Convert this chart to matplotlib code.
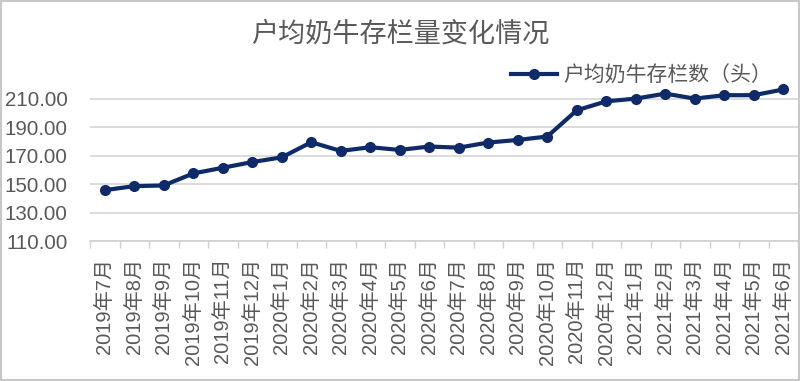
import matplotlib.pyplot as plt
from matplotlib.patches import Rectangle
import numpy as np

plt.rcParams['font.family'] = ['Liberation Sans', 'Noto Sans CJK SC']

# data
months = ["2019年7月", "2019年8月", "2019年9月", "2019年10月", "2019年11月", "2019年12月",
          "2020年1月", "2020年2月", "2020年3月", "2020年4月", "2020年5月", "2020年6月",
          "2020年7月", "2020年8月", "2020年9月", "2020年10月", "2020年11月", "2020年12月",
          "2021年1月", "2021年2月", "2021年3月", "2021年4月", "2021年5月", "2021年6月"]
cows = [145.8, 148.6, 149.1, 157.5, 161.5, 165.5,
        168.8, 179.4, 173.3, 175.9, 174.0, 176.4,
        175.6, 179.2, 181.0, 183.4, 201.8, 208.1,
        210.0, 213.5, 210.0, 212.4, 212.4, 216.4]
yticks = [110, 130, 150, 170, 190, 210]

grey = "#595959"
navy = "#0f2a68"

fig = plt.figure(figsize=(8, 3.81), dpi=100)
ax = fig.add_axes([0.1125, 0.367, 0.885, 0.449])

x = np.arange(len(months))
ax.plot(x, cows, color=navy, lw=3, marker="o", ms=7, label="户均奶牛存栏数（头）")

# axes
ax.set_xlim(-0.5, len(months) - 0.5)
ax.set_ylim(110, 230)
ax.set_yticks(yticks)
ax.set_yticklabels([f"{v:.2f}" for v in yticks])
ax.set_xticks(x)
ax.set_xticklabels(months, rotation=90)
ax.set_xticks(np.arange(-0.5, len(months)), minor=True)
ax.tick_params(axis="x", which="major", length=0, pad=12, labelsize=14.5, labelcolor=grey)
ax.tick_params(axis="x", which="minor", length=5, color="#d0d0d0", width=1)
ax.tick_params(axis="y", length=0, pad=16, labelsize=14.8, labelcolor=grey)

ax.grid(axis="y", color="#d9d9d9", lw=1.3)
ax.set_axisbelow(True)
for s in ["top", "right", "left"]:
    ax.spines[s].set_visible(False)
ax.spines["bottom"].set_color("#d0d0d0")
ax.spines["bottom"].set_linewidth(1.2)

leg = ax.legend(loc="upper right", bbox_to_anchor=(0.975, 1.075), frameon=False,
                fontsize=15, handlelength=2.2, borderaxespad=0, handletextpad=0.3)
for t in leg.get_texts():
    t.set_color(grey)

fig.text(0.5, 0.91, "户均奶牛存栏量变化情况", ha="center", va="center",
         fontsize=19.5, color=grey)

# outer frame
fig.patches.append(Rectangle((0.001, 0.003), 0.998, 0.995, transform=fig.transFigure,
                             fill=False, edgecolor="#c8c8c8", lw=1.5))

fig.savefig("out.png", dpi=100)
